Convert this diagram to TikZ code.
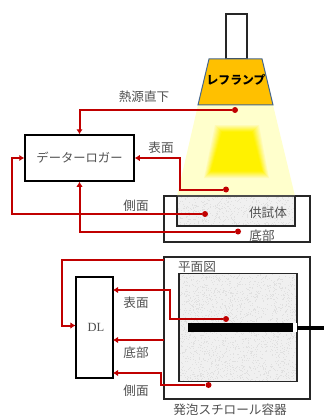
\documentclass[tikz,border=0pt]{standalone}
\usepackage{fontspec}
\setmainfont{Liberation Serif}
\newfontfamily\jp{Noto Sans CJK JP}[Scale=1]
\usetikzlibrary{arrows.meta,calc}
\definecolor{wirered}{HTML}{C00000}
\definecolor{lampfill}{HTML}{FFC000}
\definecolor{lampedge}{HTML}{44668F}
\definecolor{beam}{HTML}{FFFFCC}
\definecolor{foam}{HTML}{F0F0F0}
\definecolor{label}{HTML}{505050}
\tikzset{
  wire/.style={draw=wirered,line width=2pt,line join=miter},
  arrowed/.style={wire,-{Latex[length=5pt,width=6.5pt]}},
  probe/.style={circle,fill=wirered,inner sep=0pt,minimum size=6pt},
  frame/.style={draw=black!85,line width=1.1pt,fill=white},
  txt/.style={font=\jp\fontsize{12.6}{14}\selectfont,text=label,inner sep=0pt},
  foamblock/.style={draw=black!85,line width=1.1pt,fill=foam}
}
% speckle for the foam surfaces: #1,#2 lower corner, #3,#4 size, #5 dots
\newcommand{\speckle}[5]{%
  \pgfmathsetseed{#5}
  \foreach \n in {1,...,#5}{
    \pgfmathsetmacro{\px}{#1+rnd*#3}
    \pgfmathsetmacro{\py}{#2+rnd*#4}
    \fill[black!12] (\px,\py) rectangle ++(1,1);
  }}
\begin{document}
\begin{tikzpicture}[x=1pt,y=-1pt]
\useasboundingbox (0,0) rectangle (324,417);
\fill[white] (0,0) rectangle (324,417);

% lamp and its beam
\fill[beam] (198,105) -- (273,105) -- (295,196) -- (177,196) -- cycle;
\foreach \g/\c in {5/12,4/25,3/38,2/52,1/66,0/80,-1/92,-2/100}{
  \fill[yellow!\c!beam] ($(220,130)+(-\g,-\g)$) -- ($(254,130)+(\g,-\g)$)
     -- ($(264,173)+(\g,\g)$) -- ($(209,173)+(-\g,\g)$) -- cycle;
}
\draw[frame] (226,14) rectangle (247,59);
\draw[draw=lampedge,line width=1pt,fill=lampfill]
  (209,59) -- (262,59) -- (273,105) -- (198,105) -- cycle;
\node[txt,font=\jp\bfseries\fontsize{11.8}{13}\selectfont,text=black] (lamp) at (236,80) {レフランプ};

% specimen in its container, elevation
\draw[frame] (164,196) rectangle (310,242);
\draw[foamblock] (177,196) rectangle (295,226);
\speckle{177.6}{196.6}{116.8}{28.8}{500}
\draw[draw=black!70,line width=1.1pt] (177,196) -- (295,196);
\draw[draw=black!85,line width=1.1pt] (177,196) -- (177,226) -- (295,226) -- (295,196);
\node[txt] (specimen) at (268,213) {供試体};

% data logger and its four leads
\node[draw=black,line width=1.5pt,fill=white,minimum width=109pt,minimum height=46pt,inner sep=0pt,
      font=\jp\fontsize{12.3}{14}\selectfont,text=label] (logger) at (79.5,158) {データーロガー};
\node[probe] (pSource) at (235,110) {};
\node[probe] (pTop) at (226,189.5) {};
\node[probe] (pSide) at (205,214) {};
\node[probe] (pBottom) at (238,231.5) {};
\draw[arrowed] (pSource) -- (logger.north |- pSource) -- (logger.north);
\draw[arrowed] (pTop) -- (180,189.5) -- (180,158) -- (logger.east);
\draw[arrowed] (pSide) -- (12,214) -- (12,158) -- (logger.west);
\draw[arrowed] (pBottom) -- (logger.south |- pBottom) -- (logger.south);
\node[txt] (tSource) at (144,97) {熱源直下};
\node[txt] (tTop) at (161,147.5) {表面};
\node[txt] (tSide) at (136,206) {側面};
\node[txt] (tBottom) at (262,236) {底部};

% foam container, plan view
\draw[frame] (164,257) rectangle (310,399);
\node[txt] (tPlan) at (197,267) {平面図};
\draw[foamblock] (179,273.5) rectangle (297,381.5);
\speckle{179.6}{274.1}{116.8}{106.8}{1900}
\draw[draw=black!85,line width=1.1pt] (179,273.5) rectangle (297,381.5);
\fill[black] (188,323) rectangle (293,332);
\fill[white] (293,323) rectangle (297,332);
\fill[black] (297,326) rectangle (324,330);
\node[txt] (tFoam) at (230,410) {発泡スチロール容器};

% small logger and its leads
\node[draw=black,line width=1.1pt,fill=white,minimum width=37pt,minimum height=101pt,inner sep=0pt,
      font=\fontsize{12.5}{14}\selectfont,text=label] (dl) at (94.5,327.5) {\hspace{3pt}DL};
\coordinate (dlTop) at (113,290);
\coordinate (dlMid) at (113,340);
\coordinate (dlLow) at (113,373);
\coordinate (wallTop) at (164,260);
\coordinate (wallMid) at (164,340);
\node[probe] (qTop) at (226,319) {};
\node[probe] (qSide) at (208.5,385) {};
\draw[arrowed] (wallTop) -- (62,260) -- (62,325.5) -- (dl.west |- 0,325.5);
\draw[arrowed] (qTop) -- (169.5,319) -- (169.5,290) -- (dlTop);
\draw[arrowed] (wallMid) -- (dlMid);
\draw[arrowed] (qSide) -- (161,385) -- (161,373) -- (dlLow);
\node[txt] (qtTop) at (136,303) {表面};
\node[txt] (qtMid) at (136,353) {底部};
\node[txt] (qtSide) at (136,391) {側面};
\end{tikzpicture}
\end{document}
